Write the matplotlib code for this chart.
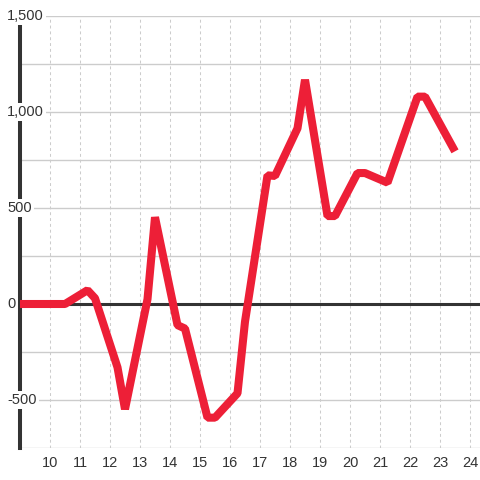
import matplotlib

matplotlib.use("Agg")
import matplotlib.pyplot as plt
import numpy as np

plt.rcParams["font.family"] = ["Liberation Sans", "DejaVu Sans"]

RED = "#ED1F37"
INK = "#333333"
GRID = "#CCCCCC"

# hour of day -> value
hours = [9, 10.5, 11.25, 11.5, 12.25, 12.5, 13.25, 13.5, 14.25, 14.5, 15.25, 15.5,
         16.25, 16.5, 17.25, 17.5, 18.25, 18.5, 19.25, 19.5, 20.25, 20.5, 21.25,
         22.25, 22.5, 23.5]
values = [0, 0, 72, 30, -330, -548, 25, 452, -110, -128, -592, -592,
          -465, -92, 670, 667, 915, 1168, 458, 458, 682, 682, 632,
          1080, 1080, 795]

x_ticks = list(range(10, 25))
y_labels = [1500, 1000, 500, 0, -500]


def fmt(v):
    return f"{v:,}"


fig = plt.figure(figsize=(4.8, 4.8), dpi=100)
ax = fig.add_axes([20 / 480, 32 / 480, 460 / 480, 432 / 480])

ax.set_xlim(9, 24 + 1 / 3)
ax.set_ylim(-750, 1500)

# grid: solid horizontals every 250, dashed verticals every hour
ax.set_yticks(np.arange(-750, 1501, 250))
ax.set_yticklabels([])
ax.set_xticks(x_ticks)
ax.set_xticklabels([str(t) for t in x_ticks], fontsize=10.5, color=INK)
ax.tick_params(axis="both", length=0)
ax.tick_params(axis="x", pad=6)
ax.grid(axis="y", color=GRID, linewidth=1.0, zorder=0)
ax.grid(axis="x", color=GRID, linewidth=0.75, linestyle=(0, (2.8, 2.8)), zorder=0)

for s in ("top", "right", "bottom"):
    ax.spines[s].set_visible(False)
ax.spines["left"].set_color(INK)
ax.spines["left"].set_linewidth(2.9)

# zero line
ax.axhline(0, color=INK, linewidth=2.2, zorder=2)

ax.plot(hours, values, color=RED, linewidth=5.8, solid_joinstyle="bevel",
        solid_capstyle="butt", zorder=3)

# y labels sit on top of the spine with a white backing
for v in y_labels:
    ax.text(-13 / 460, v, fmt(v), transform=ax.get_yaxis_transform(),
            ha="left", va="center", fontsize=10.5, color=INK, zorder=6,
            clip_on=False,
            bbox=dict(facecolor="white", edgecolor="none", pad=1.5))

fig.savefig("out.png", dpi=100, facecolor="white")
